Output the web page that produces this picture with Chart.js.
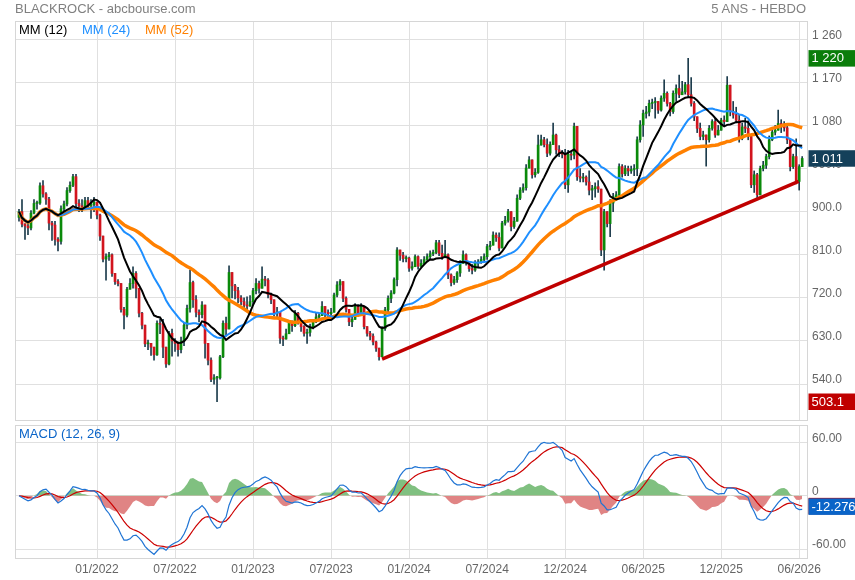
<!DOCTYPE html>
<html>
<head>
<meta charset="utf-8">
<title>BLACKROCK - 5 ANS - HEBDO</title>
<script src="https://cdn.jsdelivr.net/npm/chart.js@4.4.1/dist/chart.umd.min.js"></script>
<style>
  body { margin: 0; background: #fff; font-family: "Liberation Sans", Arial, sans-serif; }
  #wrap { position: relative; width: 855px; height: 580px; overflow: hidden; }
  canvas { position: absolute; left: 0; }
  .txt { position: absolute; font-size: 13px; line-height: 15px; white-space: nowrap; }
</style>
</head>
<body>
<div id="wrap">
  <canvas id="priceChart" width="855" height="422" style="top:0"></canvas>
  <canvas id="macdChart" width="855" height="158" style="top:422px"></canvas>
  <div class="txt" style="left:15px;top:1px;color:#808080">BLACKROCK - abcbourse.com</div>
  <div class="txt" style="right:49px;top:1px;color:#808080">5 ANS - HEBDO</div>
  <div class="txt" style="left:19px;top:22px;color:#000">MM (12)</div>
  <div class="txt" style="left:82px;top:22px;color:#1e8fff">MM (24)</div>
  <div class="txt" style="left:145px;top:22px;color:#ff8000">MM (52)</div>
  <div class="txt" style="left:19px;top:426px;color:#0a64c8">MACD (12, 26, 9)</div>
</div>

<script>
// weekly candles, one per week, oldest first
var firstOpen = 888;

var closes = [
  900, 874, 870, 866, 897, 917, 918, 954, 937, 926,
  876, 872, 842, 838, 906, 916, 944, 955, 973, 917,
  912, 910, 923, 912, 915, 920, 893, 849, 801, 806,
  810, 771, 754, 750, 696, 684, 738, 750, 771, 740,
  688, 663, 624, 625, 617, 601, 667, 665, 617, 582,
  646, 630, 625, 612, 630, 663, 698, 752, 716, 690,
  685, 705, 625, 590, 550, 553, 553, 597, 667, 655,
  773, 745, 735, 720, 712, 705, 703, 712, 735, 750,
  740,
  759, 757, 727, 716, 688, 690, 636, 634, 645, 667,
  662, 688, 670, 660, 646, 648, 659, 670, 680, 683,
  702, 690, 687, 690, 726, 747, 754, 719, 696, 670,
  675, 702, 688, 702, 660, 646, 640, 628, 615, 597,
  656, 695, 719, 730, 758, 820, 809, 802, 803, 782,
  785, 806, 786, 792, 800, 806, 812, 815, 835, 813,
  806, 810, 768, 752, 758, 772,
  792, 810, 795, 781, 778, 792, 795, 800, 806, 827,
  830, 851, 846, 824, 876, 882, 900, 869, 880, 928,
  945, 950, 991, 1008, 977, 982, 1039, 1050, 1040, 1022,
  1040, 1060, 1029, 1022, 1020, 956, 1020, 1018, 1078, 973,
  970, 972, 962, 945, 948, 952, 947, 820, 900, 875,
  918, 931, 935, 994, 979, 990, 985, 988, 990, 1050,
  1081, 1105, 1108, 1126, 1128, 1130,
  1112, 1137, 1147, 1126, 1109, 1147, 1157, 1144, 1150, 1165,
  1144, 1126, 1098, 1074, 1057, 1060, 1050, 1074, 1088, 1060,
  1070, 1091, 1088, 1164, 1109, 1102, 1091, 1053, 1077, 1074,
  1057, 956, 977, 935, 990, 997, 1015, 1050, 1066, 1070,
  1084, 1080, 1075, 1050, 994, 1015, 963, 994, 1011
];

var highs = [
  905, 925, 875, 875, 902, 925, 922, 960, 965, 940,
  930, 880, 880, 846, 912, 922, 950, 962, 978, 978,
  925, 925, 930, 930, 925, 930, 918, 895, 840, 812,
  815, 812, 768, 758, 745, 700, 742, 760, 785, 775,
  735, 690, 662, 632, 625, 615, 672, 675, 675, 605,
  650, 655, 635, 628, 638, 668, 705, 778, 755, 725,
  695, 712, 705, 625, 595, 560, 556, 600, 672, 680,
  787, 770, 748, 742, 725, 720, 722, 725, 740, 760,
  755,
  785, 765, 760, 730, 712, 700, 690, 640, 655, 672,
  672, 694, 690, 672, 662, 655, 665, 675, 690, 688,
  712, 702, 695, 698, 730, 754, 758, 750, 722, 695,
  682, 708, 706, 708, 700, 658, 650, 645, 630, 612,
  660, 700, 724, 735, 762, 825, 820, 815, 808, 805,
  795, 810, 808, 800, 806, 812, 818, 820, 840, 840,
  830, 840, 812, 770, 765, 775,
  798, 818, 812, 795, 790, 798, 800, 806, 812, 832,
  838, 858, 856, 856, 880, 890, 905, 900, 888, 935,
  950, 958, 998, 1015, 1008, 990, 1060, 1060, 1055, 1052,
  1046, 1085, 1062, 1038, 1028, 1030, 1028, 1025, 1085, 1060,
  990, 980, 975, 985, 955, 960, 965, 940, 905, 900,
  925, 938, 942, 1000, 998, 996, 995, 995, 998, 1056,
  1090, 1112, 1120, 1133, 1135, 1138,
  1128, 1142, 1175, 1150, 1128, 1152, 1165, 1185, 1172, 1170,
  1220, 1180, 1130, 1090, 1085, 1068, 1055, 1080, 1092, 1095,
  1080, 1095, 1100, 1182, 1150, 1130, 1118, 1102, 1085, 1095,
  1090, 1050, 985, 980, 995, 1005, 1020, 1058, 1075, 1080,
  1112, 1092, 1088, 1078, 1052, 1020, 1052, 998, 1015
];

var lows = [
  880, 868, 842, 852, 862, 895, 905, 915, 930, 915,
  862, 840, 830, 818, 832, 900, 912, 940, 952, 910,
  900, 900, 905, 905, 886, 900, 885, 840, 795, 757,
  798, 765, 748, 745, 690, 655, 680, 738, 740, 720,
  680, 655, 618, 612, 600, 590, 600, 645, 595, 575,
  580, 598, 608, 598, 605, 620, 655, 690, 700, 680,
  670, 678, 594, 580, 545, 540, 503.1, 550, 595, 640,
  655, 720, 718, 710, 705, 698, 695, 702, 705, 728,
  730,
  740, 745, 720, 708, 682, 680, 625, 620, 635, 645,
  650, 660, 665, 650, 640, 625, 640, 655, 668, 675,
  688, 680, 675, 680, 690, 722, 735, 712, 690, 662,
  660, 675, 682, 688, 655, 640, 632, 622, 608, 590,
  597, 652, 690, 710, 728, 745, 798, 795, 795, 775,
  778, 785, 780, 785, 790, 798, 802, 808, 812, 808,
  800, 804, 760, 745, 748, 752,
  765, 795, 788, 775, 770, 775, 785, 792, 795, 800,
  820, 835, 838, 818, 850, 872, 878, 860, 865, 880,
  925, 940, 945, 995, 970, 972, 980, 1040, 1035, 1015,
  1018, 1048, 1020, 1015, 1012, 948, 940, 1008, 1010, 965,
  962, 962, 955, 935, 925, 930, 940, 808, 778, 868,
  848, 900, 925, 930, 972, 975, 975, 980, 975, 975,
  1045, 1057, 1095, 1100, 1115, 1095,
  1105, 1110, 1130, 1120, 1100, 1105, 1130, 1138, 1145, 1145,
  1138, 1120, 1090, 1065, 1050, 1050, 995, 1045, 1070, 1055,
  1060, 1075, 1080, 1100, 1100, 1095, 1085, 1045, 1050, 1065,
  1050, 950, 940, 928, 938, 985, 990, 1010, 1048, 1060,
  1075, 1065, 1068, 1042, 985, 990, 958, 945, 995
];

// support line drawn on the chart (week index, price)
var trendX = [121, 259.8];
var trendY = [592, 963];

// axes
var xTickIdx = [26, 52, 78, 104, 130, 156, 182, 208, 234, 260];
var xTickLabels = ['01/2022', '07/2022', '01/2023', '07/2023', '01/2024', '07/2024', '12/2024', '06/2025', '12/2025', '06/2026'];
var priceTicks = [540, 630, 720, 810, 900, 990, 1080, 1170, 1260];
var macdTicks = [-60, 0, 60];
var macdLast = -12.276; // value shown in the MACD box

var xMin = -1.33, xMax = 262.6;

// ---------- indicators ----------
function sma(arr, n) {
  var out = [], sum = 0;
  for (var i = 0; i < arr.length; i++) {
    sum += arr[i];
    if (i >= n) sum -= arr[i - n];
    out.push(sum / Math.min(i + 1, n));
  }
  return out;
}

function ema(arr, n) {
  var k = 2 / (n + 1), out = [arr[0]];
  for (var i = 1; i < arr.length; i++) {
    out.push(arr[i] * k + out[i - 1] * (1 - k));
  }
  return out;
}

var mm12 = sma(closes, 12);
var mm24 = sma(closes, 24);
var mm52 = sma(closes, 52);

var ema12 = ema(closes, 12);
var ema26 = ema(closes, 26);
var macd = ema12.map(function (v, i) { return v - ema26[i]; });
var signal = ema(macd, 9);
var hist = macd.map(function (v, i) { return v - signal[i]; });

function pts(arr) {
  return arr.map(function (v, i) { return { x: i, y: v }; });
}

var opens = closes.map(function (c, i) { return i === 0 ? firstOpen : closes[i - 1]; });
var bodies = closes.map(function (c, i) { return { x: i, y: [opens[i], c] }; });
var wicks = closes.map(function (c, i) {
  return { x: i, y: [Math.min(lows[i], opens[i], c), Math.max(highs[i], opens[i], c)] };
});
var bodyColors = closes.map(function (c, i) { return c >= opens[i] ? '#0a8a0a' : '#d2141e'; });

function fmtPrice(v) {
  if (v >= 1000) return String(Math.round(v)).replace(/\B(?=(\d{3})+(?!\d))/g, ' ');
  return v.toFixed(1);
}

var FONT = '"Liberation Sans", Arial, sans-serif';
Chart.defaults.font.family = FONT;

// frame round the plot area
var framePlugin = {
  id: 'frame',
  afterDraw: function (chart) {
    var a = chart.chartArea, ctx = chart.ctx;
    ctx.save();
    ctx.strokeStyle = '#d6d6d6';
    ctx.lineWidth = 1;
    ctx.strokeRect(Math.round(a.left) + 0.5, Math.round(a.top) + 0.5, Math.round(a.right - a.left), Math.round(a.bottom - a.top));
    ctx.restore();
  }
};

function valueBox(chart, value, text, bg) {
  var y = chart.scales.y.getPixelForValue(value);
  var ctx = chart.ctx, x = chart.chartArea.right + 1.5;
  ctx.save();
  ctx.fillStyle = bg;
  ctx.fillRect(x, y - 8.25, 855 - x, 16.5);
  if (text) {
    ctx.fillStyle = '#fff';
    ctx.font = '13px ' + FONT;
    ctx.textBaseline = 'middle';
    ctx.fillText(text, x + 3, y + 0.5);
  }
  ctx.restore();
}

var priceBoxes = {
  id: 'priceBoxes',
  afterDraw: function (chart) {
    var maxH = Math.max.apply(null, highs);
    var minL = Math.min.apply(null, lows);
    var last = closes[closes.length - 1];
    valueBox(chart, maxH, fmtPrice(maxH), '#0a7d0a');
    valueBox(chart, minL, fmtPrice(minL), '#c00000');
    valueBox(chart, last, fmtPrice(last), '#14405a');
  }
};

var macdBoxes = {
  id: 'macdBoxes',
  afterDraw: function (chart) {
    valueBox(chart, signal[signal.length - 1], '', '#c00000');
    valueBox(chart, macdLast, macdLast.toFixed(3), '#0a64c8');
  }
};

// keep tick labels from pushing the plot area in
function noPad(s) {
  s.paddingTop = 0; s.paddingBottom = 0; s.paddingLeft = 0; s.paddingRight = 0;
}

function xAxis(showLabels) {
  return {
    type: 'linear',
    min: xMin,
    max: xMax,
    offset: false,
    afterBuildTicks: function (s) { s.ticks = xTickIdx.map(function (v) { return { value: v }; }); },
    ticks: {
      display: showLabels,
      autoSkip: false,
      maxRotation: 0,
      padding: 4,
      color: '#666',
      font: { size: 12 },
      callback: function (v, i) { return xTickLabels[i]; }
    },
    grid: { color: '#e0e0e0', drawTicks: false, offset: false },
    border: { display: false },
    afterFit: function (s) { s.height = showLabels ? 22 : 0; noPad(s); }
  };
}

function yAxis(min, max, tickVals, fmt) {
  return {
    position: 'right',
    min: min,
    max: max,
    afterBuildTicks: function (s) { s.ticks = tickVals.map(function (v) { return { value: v }; }); },
    ticks: { color: '#666', font: { size: 12 }, padding: 5, labelOffset: -4, callback: fmt },
    grid: { color: '#e0e0e0', drawTicks: false },
    border: { display: false },
    afterFit: function (s) { s.width = 48; noPad(s); }
  };
}

new Chart(document.getElementById('priceChart'), {
  type: 'bar',
  data: {
    datasets: [
      { type: 'line', label: 'support', data: trendX.map(function (x, i) { return { x: x, y: trendY[i] }; }),
        borderColor: '#c00000', borderWidth: 3.5, pointRadius: 0, order: 0 },
      { type: 'line', label: 'MM (12)', data: pts(mm12), borderColor: '#000', borderWidth: 2, pointRadius: 0, order: 1 },
      { type: 'line', label: 'MM (24)', data: pts(mm24), borderColor: '#1e8fff', borderWidth: 2, pointRadius: 0, order: 2 },
      { type: 'line', label: 'MM (52)', data: pts(mm52), borderColor: '#ff8000', borderWidth: 3.5, pointRadius: 0, order: 3 },
      { type: 'bar', label: 'body', data: bodies, backgroundColor: bodyColors, barThickness: 2,
        minBarLength: 1, grouped: false, order: 5 },
      { type: 'bar', label: 'wick', data: wicks, backgroundColor: '#1d3c4c', barThickness: 1,
        grouped: false, order: 6 }
    ]
  },
  options: {
    responsive: false,
    animation: false,
    layout: { padding: { left: 15, top: 21, right: 0, bottom: 2 } },
    plugins: { legend: { display: false }, tooltip: { enabled: false } },
    scales: {
      x: xAxis(false),
      y: yAxis(465, 1298, priceTicks, fmtPrice)
    }
  },
  plugins: [framePlugin, priceBoxes]
});

new Chart(document.getElementById('macdChart'), {
  type: 'line',
  data: {
    datasets: [
      { label: 'MACD', data: pts(macd), borderColor: '#1f74d4', borderWidth: 1.2, pointRadius: 0, order: 1 },
      { label: 'signal', data: pts(signal), borderColor: '#cc0000', borderWidth: 1.2, pointRadius: 0, order: 2 },
      { label: 'hist', data: pts(hist), borderColor: 'rgba(0,0,0,0)', borderWidth: 0, pointRadius: 0, order: 3,
        fill: { target: 'origin', above: '#80c080', below: '#e08484' } }
    ]
  },
  options: {
    responsive: false,
    animation: false,
    layout: { padding: { left: 15, top: 3, right: 0, bottom: 0 } },
    plugins: { legend: { display: false }, tooltip: { enabled: false } },
    scales: {
      x: xAxis(true),
      y: yAxis(-70, 79.5, macdTicks, function (v) { return v === 0 ? '0' : v.toFixed(2); })
    }
  },
  plugins: [framePlugin, macdBoxes]
});
</script>
</body>
</html>
